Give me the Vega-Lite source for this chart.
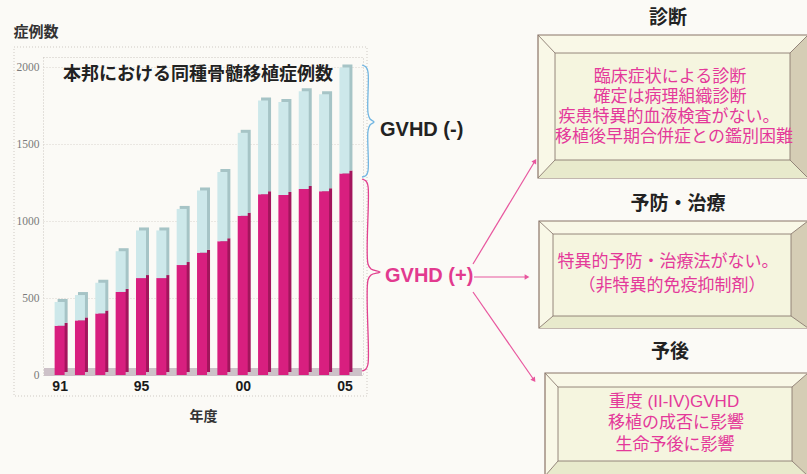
{
  "$schema": "https://vega.github.io/schema/vega-lite/v6.json",
  "width": 320,
  "height": 318,
  "autosize": {"type": "none"},
  "padding": {"left": 43, "top": 57, "right": 444, "bottom": 99},
  "background": "#fbfaf6",
  "config": {
    "font": "Noto Sans CJK JP",
    "view": {"stroke": "#cbc6c0", "strokeDash": [1, 2], "strokeWidth": 1}
  },
  "datasets": {
    "cases": [
      {"year": 1991, "group": "GVHD (+)", "n": 320}, {"year": 1991, "group": "GVHD (-)", "n": 155},
      {"year": 1992, "group": "GVHD (+)", "n": 355}, {"year": 1992, "group": "GVHD (-)", "n": 165},
      {"year": 1993, "group": "GVHD (+)", "n": 400}, {"year": 1993, "group": "GVHD (-)", "n": 200},
      {"year": 1994, "group": "GVHD (+)", "n": 540}, {"year": 1994, "group": "GVHD (-)", "n": 265},
      {"year": 1995, "group": "GVHD (+)", "n": 630}, {"year": 1995, "group": "GVHD (-)", "n": 310},
      {"year": 1996, "group": "GVHD (+)", "n": 630}, {"year": 1996, "group": "GVHD (-)", "n": 310},
      {"year": 1997, "group": "GVHD (+)", "n": 715}, {"year": 1997, "group": "GVHD (-)", "n": 365},
      {"year": 1998, "group": "GVHD (+)", "n": 795}, {"year": 1998, "group": "GVHD (-)", "n": 405},
      {"year": 1999, "group": "GVHD (+)", "n": 870}, {"year": 1999, "group": "GVHD (-)", "n": 450},
      {"year": 2000, "group": "GVHD (+)", "n": 1035}, {"year": 2000, "group": "GVHD (-)", "n": 540},
      {"year": 2001, "group": "GVHD (+)", "n": 1175}, {"year": 2001, "group": "GVHD (-)", "n": 610},
      {"year": 2002, "group": "GVHD (+)", "n": 1170}, {"year": 2002, "group": "GVHD (-)", "n": 605},
      {"year": 2003, "group": "GVHD (+)", "n": 1210}, {"year": 2003, "group": "GVHD (-)", "n": 635},
      {"year": 2004, "group": "GVHD (+)", "n": 1195}, {"year": 2004, "group": "GVHD (-)", "n": 630},
      {"year": 2005, "group": "GVHD (+)", "n": 1310}, {"year": 2005, "group": "GVHD (-)", "n": 690}
    ],
    "frame": [{"cx": 14, "cx2": 367, "cy": 47, "cy2": 396}],
    "floor": [{"cx": 44, "cx2": 362, "cy": 368, "cy2": 376}],
    "braces": [
      {"brace": "neg", "i": 1, "cx": 362, "cy": 65}, {"brace": "neg", "i": 2, "cx": 366, "cy": 67},
      {"brace": "neg", "i": 3, "cx": 368, "cy": 72}, {"brace": "neg", "i": 4, "cx": 368, "cy": 113},
      {"brace": "neg", "i": 5, "cx": 370, "cy": 119}, {"brace": "neg", "i": 6, "cx": 374, "cy": 122},
      {"brace": "neg", "i": 7, "cx": 370, "cy": 125}, {"brace": "neg", "i": 8, "cx": 368, "cy": 131},
      {"brace": "neg", "i": 9, "cx": 368, "cy": 171}, {"brace": "neg", "i": 10, "cx": 366, "cy": 175.5},
      {"brace": "neg", "i": 11, "cx": 362, "cy": 177},
      {"brace": "pos", "i": 1, "cx": 362, "cy": 179}, {"brace": "pos", "i": 2, "cx": 366, "cy": 181},
      {"brace": "pos", "i": 3, "cx": 368, "cy": 186}, {"brace": "pos", "i": 4, "cx": 368, "cy": 264},
      {"brace": "pos", "i": 5, "cx": 371, "cy": 269}, {"brace": "pos", "i": 6, "cx": 380, "cy": 272},
      {"brace": "pos", "i": 7, "cx": 371, "cy": 275}, {"brace": "pos", "i": 8, "cx": 368, "cy": 280},
      {"brace": "pos", "i": 9, "cx": 368, "cy": 364}, {"brace": "pos", "i": 10, "cx": 366, "cy": 369},
      {"brace": "pos", "i": 11, "cx": 362, "cy": 371}
    ],
    "arrows": [
      {"k": "up", "cx": 473, "cy": 264, "cx2": 535, "cy2": 161},
      {"k": "mid", "cx": 474, "cy": 277, "cx2": 527, "cy2": 277},
      {"k": "down", "cx": 473, "cy": 292, "cx2": 534, "cy2": 380}
    ],
    "boxes": [
      {"cx": 538, "cx2": 808, "cy": 35, "cy2": 178},
      {"cx": 539, "cx2": 808, "cy": 221, "cy2": 328},
      {"cx": 545, "cx2": 808, "cy": 373, "cy2": 476}
    ],
    "faces": [
      {"cx": 555, "cx2": 790, "cy": 53, "cy2": 160},
      {"cx": 553, "cx2": 791, "cy": 234, "cy2": 316},
      {"cx": 558, "cx2": 792, "cy": 387, "cy2": 461}
    ],
    "bevels": [
      {"piece": "b1b", "side": "bottom", "cx": 538, "cy": 178, "cy2": 178},
      {"piece": "b1b", "side": "bottom", "cx": 555, "cy": 160, "cy2": 178},
      {"piece": "b1b", "side": "bottom", "cx": 790, "cy": 160, "cy2": 178},
      {"piece": "b1b", "side": "bottom", "cx": 808, "cy": 178, "cy2": 178},
      {"piece": "b1r", "side": "right", "cx": 790, "cy": 53, "cy2": 160},
      {"piece": "b1r", "side": "right", "cx": 808, "cy": 35, "cy2": 178},
      {"piece": "b2b", "side": "bottom", "cx": 539, "cy": 328, "cy2": 328},
      {"piece": "b2b", "side": "bottom", "cx": 553, "cy": 316, "cy2": 328},
      {"piece": "b2b", "side": "bottom", "cx": 791, "cy": 316, "cy2": 328},
      {"piece": "b2b", "side": "bottom", "cx": 808, "cy": 328, "cy2": 328},
      {"piece": "b2r", "side": "right", "cx": 791, "cy": 234, "cy2": 316},
      {"piece": "b2r", "side": "right", "cx": 808, "cy": 221, "cy2": 328},
      {"piece": "b3b", "side": "bottom", "cx": 545, "cy": 476, "cy2": 476},
      {"piece": "b3b", "side": "bottom", "cx": 558, "cy": 461, "cy2": 476},
      {"piece": "b3b", "side": "bottom", "cx": 792, "cy": 461, "cy2": 476},
      {"piece": "b3b", "side": "bottom", "cx": 808, "cy": 476, "cy2": 476},
      {"piece": "b3r", "side": "right", "cx": 792, "cy": 387, "cy2": 461},
      {"piece": "b3r", "side": "right", "cx": 808, "cy": 373, "cy2": 476}
    ],
    "diagonals": [
      {"cx": 538, "cy": 35, "cx2": 555, "cy2": 53}, {"cx": 808, "cy": 35, "cx2": 790, "cy2": 53},
      {"cx": 538, "cy": 178, "cx2": 555, "cy2": 160}, {"cx": 808, "cy": 178, "cx2": 790, "cy2": 160},
      {"cx": 539, "cy": 221, "cx2": 553, "cy2": 234}, {"cx": 808, "cy": 221, "cx2": 791, "cy2": 234},
      {"cx": 539, "cy": 328, "cx2": 553, "cy2": 316}, {"cx": 808, "cy": 328, "cx2": 791, "cy2": 316},
      {"cx": 545, "cy": 373, "cx2": 558, "cy2": 387}, {"cx": 808, "cy": 373, "cx2": 792, "cy2": 387},
      {"cx": 545, "cy": 476, "cx2": 558, "cy2": 461}, {"cx": 808, "cy": 476, "cx2": 792, "cy2": 461}
    ],
    "boxTitles": [
      {"cx": 668, "cy": 18, "t": "診断"},
      {"cx": 678, "cy": 204, "t": "予防・治療"},
      {"cx": 670, "cy": 352, "t": "予後"}
    ],
    "bodyLines": [
      {"cx": 670, "cy": 76.5, "t": "臨床症状による診断"},
      {"cx": 670, "cy": 96.8, "t": "確定は病理組織診断"},
      {"cx": 669, "cy": 117, "t": "疾患特異的血液検査がない。"},
      {"cx": 674, "cy": 137.3, "t": "移植後早期合併症との鑑別困難"},
      {"cx": 668, "cy": 262, "t": "特異的予防・治療法がない。"},
      {"cx": 672, "cy": 286, "t": "（非特異的免疫抑制剤）"},
      {"cx": 674, "cy": 401.5, "t": "重度 (II-IV)GVHD"},
      {"cx": 676, "cy": 423, "t": "移植の成否に影響"},
      {"cx": 675, "cy": 444.5, "t": "生命予後に影響"}
    ]
  },
  "resolve": {"scale": {"x": "independent", "y": "independent", "color": "independent"}},
  "layer": [
    {
      "data": {"name": "frame"},
      "mark": {"type": "rect", "fillOpacity": 0, "stroke": "#cfcac4", "strokeDash": [1, 2], "strokeWidth": 1},
      "encoding": {
        "x": {"field": "cx", "type": "quantitative", "scale": {"domain": [0, 807], "range": [-43, 764], "nice": false, "zero": false}, "axis": null},
        "x2": {"field": "cx2"},
        "y": {"field": "cy", "type": "quantitative", "scale": {"domain": [0, 474], "range": [-57, 417], "nice": false, "zero": false}, "axis": null},
        "y2": {"field": "cy2"}
      }
    },
    {
      "data": {"name": "floor"},
      "mark": {"type": "rect", "fill": "#cdc1c8"},
      "encoding": {
        "x": {"field": "cx", "type": "quantitative", "scale": {"domain": [0, 807], "range": [-43, 764], "nice": false, "zero": false}, "axis": null},
        "x2": {"field": "cx2"},
        "y": {"field": "cy", "type": "quantitative", "scale": {"domain": [0, 474], "range": [-57, 417], "nice": false, "zero": false}, "axis": null},
        "y2": {"field": "cy2"}
      }
    },
    {
      "data": {"name": "cases"},
      "mark": {"type": "bar", "size": 10, "xOffset": 3, "yOffset": -3, "y2Offset": -3},
      "encoding": {
        "x": {"field": "year", "type": "quantitative", "scale": {"domain": [1990.4286, 2005.667], "nice": false, "zero": false}, "axis": null},
        "y": {"field": "n", "type": "quantitative", "stack": "zero", "scale": {"domain": [0, 2068], "nice": false}, "axis": null},
        "color": {"field": "group", "type": "nominal", "scale": {"domain": ["GVHD (+)", "GVHD (-)"], "range": ["#a3155c", "#a6c4c6"]}, "legend": null},
        "order": {"field": "group", "sort": "ascending"}
      }
    },
    {
      "data": {"name": "cases"},
      "mark": {"type": "bar", "size": 10},
      "encoding": {
        "x": {
          "field": "year", "type": "quantitative",
          "scale": {"domain": [1990.4286, 2005.667], "nice": false, "zero": false},
          "axis": {
            "orient": "bottom", "values": [1991, 1995, 2000, 2005], "format": "d",
            "labelExpr": "substring(datum.label, 2, 4)",
            "grid": false, "domain": false, "ticks": false,
            "labelFont": "Liberation Sans", "labelFontWeight": "bold", "labelFontSize": 14, "labelColor": "#1a1a1a", "labelPadding": 4,
            "title": "年度", "titleFont": "Noto Sans CJK JP", "titleFontSize": 14, "titleFontWeight": "bold", "titleColor": "#333333", "titlePadding": 16
          }
        },
        "y": {
          "field": "n", "type": "quantitative", "stack": "zero",
          "scale": {"domain": [0, 2068], "nice": false},
          "axis": {
            "orient": "left", "values": [0, 500, 1000, 1500, 2000], "format": "d",
            "grid": true, "gridColor": "#d9d5cf", "gridDash": [1, 2],
            "domain": false, "ticks": false,
            "labelFont": "Liberation Sans Narrow", "labelFontSize": 11.5, "labelColor": "#7a7a7a", "labelPadding": 4,
            "title": null
          }
        },
        "color": {"field": "group", "type": "nominal", "scale": {"domain": ["GVHD (+)", "GVHD (-)"], "range": ["#d81f7f", "#cde8ea"]}, "legend": null},
        "order": {"field": "group", "sort": "ascending"}
      }
    },
    {
      "data": {"name": "braces"},
      "mark": {"type": "line", "interpolate": "catmull-rom", "strokeWidth": 1.3},
      "encoding": {
        "x": {"field": "cx", "type": "quantitative", "scale": {"domain": [0, 807], "range": [-43, 764], "nice": false, "zero": false}, "axis": null},
        "y": {"field": "cy", "type": "quantitative", "scale": {"domain": [0, 474], "range": [-57, 417], "nice": false, "zero": false}, "axis": null},
        "detail": {"field": "brace"},
        "order": {"field": "i", "type": "quantitative"},
        "color": {"field": "brace", "type": "nominal", "scale": {"domain": ["neg", "pos"], "range": ["#72b6e2", "#e2418f"]}, "legend": null}
      }
    },
    {
      "data": {"name": "arrows"},
      "mark": {"type": "rule", "color": "#e8569e", "strokeWidth": 1.2},
      "encoding": {
        "x": {"field": "cx", "type": "quantitative", "scale": {"domain": [0, 807], "range": [-43, 764], "nice": false, "zero": false}, "axis": null},
        "x2": {"field": "cx2"},
        "y": {"field": "cy", "type": "quantitative", "scale": {"domain": [0, 474], "range": [-57, 417], "nice": false, "zero": false}, "axis": null},
        "y2": {"field": "cy2"}
      }
    },
    {
      "data": {"name": "arrows"},
      "transform": [{"filter": "datum.k == 'up'"}],
      "mark": {"type": "point", "shape": "triangle-up", "filled": true, "size": 30, "angle": 31, "color": "#e8569e", "opacity": 1},
      "encoding": {
        "x": {"field": "cx2", "type": "quantitative", "scale": {"domain": [0, 807], "range": [-43, 764], "nice": false, "zero": false}, "axis": null},
        "y": {"field": "cy2", "type": "quantitative", "scale": {"domain": [0, 474], "range": [-57, 417], "nice": false, "zero": false}, "axis": null}
      }
    },
    {
      "data": {"name": "arrows"},
      "transform": [{"filter": "datum.k == 'mid'"}],
      "mark": {"type": "point", "shape": "triangle-up", "filled": true, "size": 30, "angle": 90, "color": "#e8569e", "opacity": 1},
      "encoding": {
        "x": {"field": "cx2", "type": "quantitative", "scale": {"domain": [0, 807], "range": [-43, 764], "nice": false, "zero": false}, "axis": null},
        "y": {"field": "cy2", "type": "quantitative", "scale": {"domain": [0, 474], "range": [-57, 417], "nice": false, "zero": false}, "axis": null}
      }
    },
    {
      "data": {"name": "arrows"},
      "transform": [{"filter": "datum.k == 'down'"}],
      "mark": {"type": "point", "shape": "triangle-up", "filled": true, "size": 30, "angle": 145, "color": "#e8569e", "opacity": 1},
      "encoding": {
        "x": {"field": "cx2", "type": "quantitative", "scale": {"domain": [0, 807], "range": [-43, 764], "nice": false, "zero": false}, "axis": null},
        "y": {"field": "cy2", "type": "quantitative", "scale": {"domain": [0, 474], "range": [-57, 417], "nice": false, "zero": false}, "axis": null}
      }
    },
    {
      "data": {"name": "boxes"},
      "mark": {"type": "rect", "fill": "#f9f8e7", "stroke": "#8a7468", "strokeWidth": 1.2},
      "encoding": {
        "x": {"field": "cx", "type": "quantitative", "scale": {"domain": [0, 807], "range": [-43, 764], "nice": false, "zero": false}, "axis": null},
        "x2": {"field": "cx2"},
        "y": {"field": "cy", "type": "quantitative", "scale": {"domain": [0, 474], "range": [-57, 417], "nice": false, "zero": false}, "axis": null},
        "y2": {"field": "cy2"}
      }
    },
    {
      "data": {"name": "bevels"},
      "mark": {"type": "area", "orient": "vertical", "opacity": 1},
      "encoding": {
        "x": {"field": "cx", "type": "quantitative", "scale": {"domain": [0, 807], "range": [-43, 764], "nice": false, "zero": false}, "axis": null},
        "y": {"field": "cy", "type": "quantitative", "stack": null, "scale": {"domain": [0, 474], "range": [-57, 417], "nice": false, "zero": false}, "axis": null},
        "y2": {"field": "cy2"},
        "detail": {"field": "piece"},
        "color": {"field": "side", "type": "nominal", "scale": {"domain": ["bottom", "right"], "range": ["#e8eacc", "#d5cdb5"]}, "legend": null}
      }
    },
    {
      "data": {"name": "faces"},
      "mark": {"type": "rect", "fill": "#f5f5df", "stroke": "#8a7a70", "strokeWidth": 0.9},
      "encoding": {
        "x": {"field": "cx", "type": "quantitative", "scale": {"domain": [0, 807], "range": [-43, 764], "nice": false, "zero": false}, "axis": null},
        "x2": {"field": "cx2"},
        "y": {"field": "cy", "type": "quantitative", "scale": {"domain": [0, 474], "range": [-57, 417], "nice": false, "zero": false}, "axis": null},
        "y2": {"field": "cy2"}
      }
    },
    {
      "data": {"name": "diagonals"},
      "mark": {"type": "rule", "color": "#8a7a70", "strokeWidth": 0.9},
      "encoding": {
        "x": {"field": "cx", "type": "quantitative", "scale": {"domain": [0, 807], "range": [-43, 764], "nice": false, "zero": false}, "axis": null},
        "x2": {"field": "cx2"},
        "y": {"field": "cy", "type": "quantitative", "scale": {"domain": [0, 474], "range": [-57, 417], "nice": false, "zero": false}, "axis": null},
        "y2": {"field": "cy2"}
      }
    },
    {
      "data": {"values": [{"cx": 36, "cy": 32, "t": "症例数"}]},
      "mark": {"type": "text", "font": "Noto Sans CJK JP", "fontSize": 15, "fontWeight": "bold", "color": "#333333", "align": "center", "baseline": "middle"},
      "encoding": {
        "x": {"field": "cx", "type": "quantitative", "scale": {"domain": [0, 807], "range": [-43, 764], "nice": false, "zero": false}, "axis": null},
        "y": {"field": "cy", "type": "quantitative", "scale": {"domain": [0, 474], "range": [-57, 417], "nice": false, "zero": false}, "axis": null},
        "text": {"field": "t"}
      }
    },
    {
      "data": {"values": [{"cx": 198, "cy": 75, "t": "本邦における同種骨髄移植症例数"}]},
      "mark": {"type": "text", "font": "Noto Sans CJK JP", "fontSize": 18, "fontWeight": "bold", "color": "#222222", "align": "center", "baseline": "middle"},
      "encoding": {
        "x": {"field": "cx", "type": "quantitative", "scale": {"domain": [0, 807], "range": [-43, 764], "nice": false, "zero": false}, "axis": null},
        "y": {"field": "cy", "type": "quantitative", "scale": {"domain": [0, 474], "range": [-57, 417], "nice": false, "zero": false}, "axis": null},
        "text": {"field": "t"}
      }
    },
    {
      "data": {"values": [{"cx": 380, "cy": 130, "t": "GVHD (-)"}]},
      "mark": {"type": "text", "font": "Liberation Sans", "fontSize": 20, "fontWeight": "bold", "color": "#222222", "align": "left", "baseline": "middle"},
      "encoding": {
        "x": {"field": "cx", "type": "quantitative", "scale": {"domain": [0, 807], "range": [-43, 764], "nice": false, "zero": false}, "axis": null},
        "y": {"field": "cy", "type": "quantitative", "scale": {"domain": [0, 474], "range": [-57, 417], "nice": false, "zero": false}, "axis": null},
        "text": {"field": "t"}
      }
    },
    {
      "data": {"values": [{"cx": 385, "cy": 276, "t": "GVHD (+)"}]},
      "mark": {"type": "text", "font": "Liberation Sans", "fontSize": 20, "fontWeight": "bold", "color": "#e23a8f", "align": "left", "baseline": "middle"},
      "encoding": {
        "x": {"field": "cx", "type": "quantitative", "scale": {"domain": [0, 807], "range": [-43, 764], "nice": false, "zero": false}, "axis": null},
        "y": {"field": "cy", "type": "quantitative", "scale": {"domain": [0, 474], "range": [-57, 417], "nice": false, "zero": false}, "axis": null},
        "text": {"field": "t"}
      }
    },
    {
      "data": {"name": "boxTitles"},
      "mark": {"type": "text", "font": "Noto Sans CJK JP", "fontSize": 19, "fontWeight": "bold", "color": "#222222", "align": "center", "baseline": "middle"},
      "encoding": {
        "x": {"field": "cx", "type": "quantitative", "scale": {"domain": [0, 807], "range": [-43, 764], "nice": false, "zero": false}, "axis": null},
        "y": {"field": "cy", "type": "quantitative", "scale": {"domain": [0, 474], "range": [-57, 417], "nice": false, "zero": false}, "axis": null},
        "text": {"field": "t"}
      }
    },
    {
      "data": {"name": "bodyLines"},
      "mark": {"type": "text", "font": "Liberation Sans, Noto Sans CJK JP", "fontSize": 17, "color": "#e4399a", "align": "center", "baseline": "middle"},
      "encoding": {
        "x": {"field": "cx", "type": "quantitative", "scale": {"domain": [0, 807], "range": [-43, 764], "nice": false, "zero": false}, "axis": null},
        "y": {"field": "cy", "type": "quantitative", "scale": {"domain": [0, 474], "range": [-57, 417], "nice": false, "zero": false}, "axis": null},
        "text": {"field": "t"}
      }
    }
  ]
}
